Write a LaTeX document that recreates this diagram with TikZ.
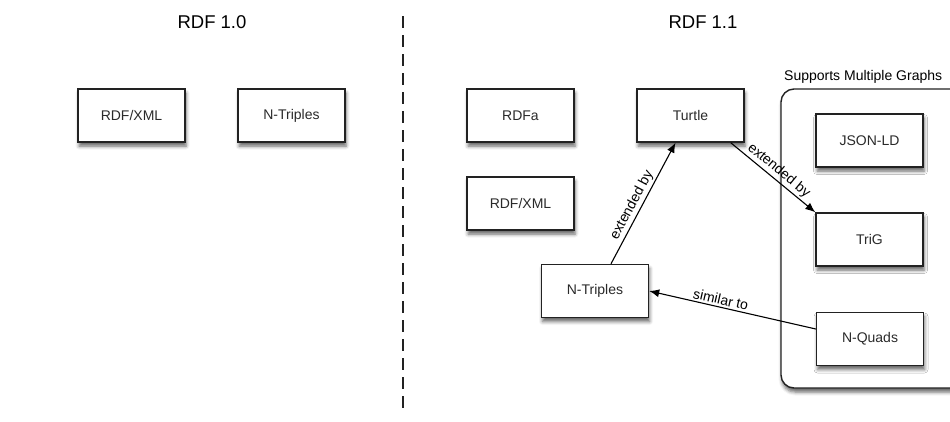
\documentclass[tikz,border=0pt]{standalone}
\usepackage{fontspec}
\setmainfont{Liberation Sans}
\usetikzlibrary{arrows.meta,shadows.blur,calc}

\definecolor{boxline}{HTML}{222222}
\definecolor{boxtext}{HTML}{2A2A2A}

\tikzset{
  fmtbox/.style={draw=boxline, line width=1.4pt, fill=white,
    minimum width=107pt, minimum height=53pt, inner sep=0pt,
    text=boxtext, font=\fontsize{14}{16}\selectfont,
    blur shadow={shadow xshift=1pt, shadow yshift=-4pt,
      shadow blur radius=3.5pt, shadow opacity=60}},
  groupbox/.style={draw=boxline, line width=1.4pt, fill=white,
    rounded corners=13pt, inner sep=0pt,
    blur shadow={shadow xshift=1pt, shadow yshift=-4pt,
      shadow blur radius=3.5pt, shadow opacity=60}},
  heading/.style={font=\fontsize{18.5}{20}\selectfont, text=black},
  rel/.style={line width=1.1pt, draw=black,
    -{Latex[length=10pt,width=8pt]}},
  rellabel/.style={font=\fontsize{14}{16}\selectfont, text=black,
    inner sep=2pt, sloped},
  divider/.style={line width=1.3pt, draw=boxline,
    dash pattern=on 12pt off 7pt}
}

\begin{document}
\begin{tikzpicture}[x=1pt, y=-1pt]
  \useasboundingbox (0,0) rectangle (950,421);
  \clip (0,0) rectangle (950,421);

  % column headings and divider
  \node[heading] (h10) at (212,22) {RDF 1.0};
  \node[heading] (h11) at (703,22) {RDF 1.1};
  \coordinate (divtop) at (403,16);
  \coordinate (divbot) at (403,414);
  \draw[divider] (divtop) -- (divbot);

  % RDF 1.0 formats
  \node[fmtbox] (xml10) at (131.5,115.5) {RDF/XML};
  \node[fmtbox] (nt10)  at (291.5,115.5) {N-Triples};

  % RDF 1.1 group of multi-graph formats
  \node[groupbox, minimum width=182pt, minimum height=299pt]
    (group) at (872,238.5) {};
  \node[font=\fontsize{14}{16}\selectfont, anchor=west, inner sep=0pt]
    (grouptitle) at (784,77) {Supports Multiple Graphs};

  % RDF 1.1 formats
  \node[fmtbox] (rdfa)   at (520.5,115.5) {RDFa};
  \node[fmtbox] (turtle) at (690.5,115.5) {Turtle};
  \node[fmtbox] (xml11)  at (520.5,203.5) {RDF/XML};
  \node[fmtbox] (nt11)   at (595,291)     {N-Triples};
  \node[fmtbox] (jsonld) at (869.5,140.5) {JSON-LD};
  \node[fmtbox] (trig)   at (869.5,239.5) {TriG};
  \node[fmtbox] (nquads) at (870,339)     {N-Quads};

  % relations
  \draw[rel] ($(nt11.north)+(16,0)$) --
    node[rellabel, above, pos=0.45] {extended by} ($(turtle.south)+(-15,0)$);
  \draw[rel] ($(turtle.south east)+(-14,0)$) --
    node[rellabel, above, pos=0.5] {extended by} (trig.north west);
  \draw[rel] ($(nquads.west)+(0,-10)$) --
    node[rellabel, above, pos=0.58] {similar to} (nt11.east);
\end{tikzpicture}
\end{document}
